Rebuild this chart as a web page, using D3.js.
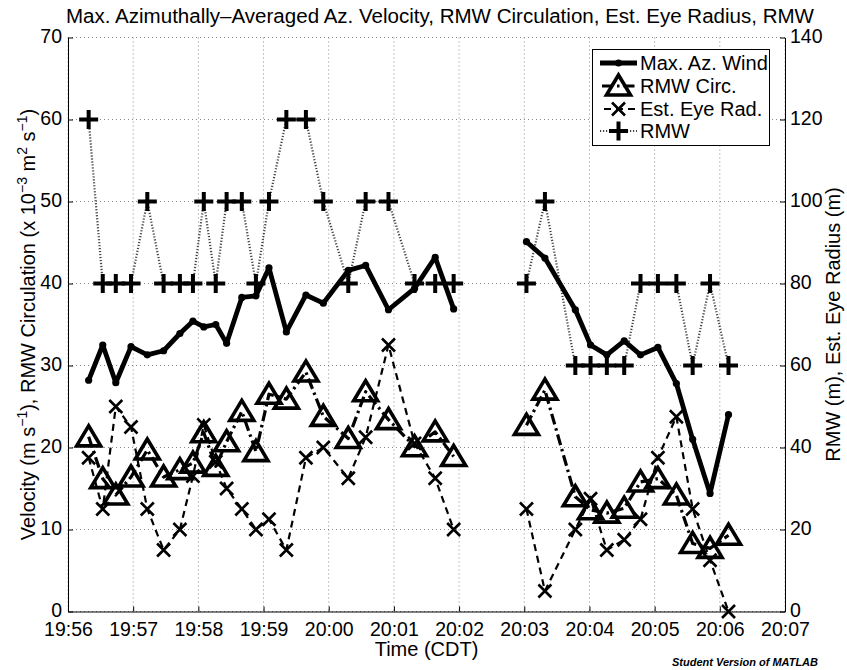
<!DOCTYPE html>
<html><head><meta charset="utf-8">
<script src="https://cdn.jsdelivr.net/npm/d3@7"></script>
<style>
body{margin:0;background:#fff;}
text{font-family:"Liberation Sans",Arial,Helvetica,sans-serif;fill:#000;}
</style></head>
<body>
<svg id="c" width="847" height="670"></svg>
<script>
// ---- data ----
const times = ["19:56:19","19:56:32","19:56:44","19:56:58","19:57:13","19:57:28","19:57:43","19:57:55",
  "19:58:05","19:58:16","19:58:26","19:58:40","19:58:53","19:59:05","19:59:21","19:59:39","19:59:55",
  "20:00:18","20:00:34","20:00:55","20:01:19","20:01:38","20:01:55",
  "20:03:02","20:03:19","20:03:47","20:04:01","20:04:16","20:04:32","20:04:47","20:05:03","20:05:20",
  "20:05:35","20:05:51","20:06:08"];
const maxAzWind = [28.2,32.5,27.9,32.3,31.3,31.8,33.9,35.4,34.7,35.0,32.7,38.3,38.5,41.9,34.1,38.6,37.6,41.6,42.2,36.8,39.4,43.2,36.9,
  45.1,43.1,36.8,32.5,31.3,33.0,31.3,32.2,27.8,21.0,14.4,24.0];
const rmwCirc = [21.3,16.2,14.2,16.4,19.7,16.4,17.3,18.1,21.8,17.7,20.7,24.4,19.5,26.5,25.9,29.2,23.8,21.1,26.8,23.4,20.1,21.9,18.9,
  22.7,27.0,14.0,12.4,12.0,12.6,15.8,16.2,14.2,8.3,7.7,9.3];
const eyeRad = [37.5,25,50,45,25,15,20,33,45.5,36.5,30,25,20,22.5,15,37.5,40,32.5,42.5,65,41,32.5,20,
  25,5,20,27.5,15,17.5,22.5,37.5,47.5,25,12.5,0];
const rmw = [120,80,80,80,100,80,80,80,100,80,100,100,80,100,120,120,100,80,100,100,80,80,80,
  80,100,60,60,60,60,80,80,80,60,80,60];
const leftTicks = [0,10,20,30,40,50,60,70];
const rightTicks = [0,20,40,60,80,100,120,140];
const legendLabels = ["Max. Az. Wind","RMW Circ.","Est. Eye Rad.","RMW"];

// ---- chart ----
const svg = d3.select("#c");
const parse = d3.timeParse("%H:%M:%S");
const T = times.map(parse);
const L = 68, R = 785, TOP = 37.5, BOT = 611.5;
const x = d3.scaleTime().domain([parse("19:56:00"), parse("20:07:00")]).range([L, R]);
const yL = d3.scaleLinear().domain([0,70]).range([BOT, TOP]);
const yR = d3.scaleLinear().domain([0,140]).range([BOT, TOP]);

// grid
const g = svg.append("g");
const xt = d3.timeMinute.every(1).range(parse("19:56:00"), parse("20:07:01"));
g.selectAll(".gx").data(xt).join("line").attr("x1",d=>x(d)).attr("x2",d=>x(d)).attr("y1",TOP).attr("y2",BOT)
  .attr("stroke","#888").attr("stroke-width",1).attr("stroke-dasharray","1,3");
g.selectAll(".gy").data(leftTicks).join("line").attr("x1",L).attr("x2",R).attr("y1",d=>yL(d)).attr("y2",d=>yL(d))
  .attr("stroke","#888").attr("stroke-width",1).attr("stroke-dasharray","1,3");

// axes
const fontSize = 20, tickFont = 19.5;
const ax = svg.append("g").attr("transform",`translate(0,${BOT})`)
  .call(d3.axisBottom(x).tickValues(xt).tickFormat(d3.timeFormat("%H:%M")).tickSizeInner(-5).tickSizeOuter(0).tickPadding(11));
const ayl = svg.append("g").attr("transform",`translate(${L},0)`)
  .call(d3.axisLeft(yL).tickValues(leftTicks).tickSizeInner(-5).tickSizeOuter(0).tickPadding(6));
const ayr = svg.append("g").attr("transform",`translate(${R},0)`)
  .call(d3.axisRight(yR).tickValues(rightTicks).tickSizeInner(-5).tickSizeOuter(0).tickPadding(5));
[ax,ayl,ayr].forEach(a=>{
  a.selectAll("path").attr("stroke","#000").attr("stroke-width",1);
  a.selectAll("line").attr("stroke","#000");
  a.selectAll("text").attr("font-size",tickFont).attr("font-family","Liberation Sans, Arial, sans-serif").attr("fill","#000");
});
ayl.selectAll("text").attr("dy","0.26em");
ayr.selectAll("text").attr("dy","0.26em");

// segments (break where gap > 60 s)
const idx = d3.range(T.length);
const segs = [];
let cur = [0];
for (let i=1;i<T.length;i++){ if ((T[i]-T[i-1])/1000 > 60){ segs.push(cur); cur=[]; } cur.push(i); }
segs.push(cur);

function drawSeries(vals, yS, style){
  const line = d3.line().x(i=>x(T[i])).y(i=>yS(vals[i]));
  svg.append("g").selectAll("path").data(segs).join("path").attr("d",line)
    .attr("fill","none").attr("stroke",style.color).attr("stroke-width",style.width)
    .attr("stroke-dasharray",style.dash||null).attr("stroke-linejoin","round");
}
const triPath = "M0,-11L-12,9L12,9Z";
const plusPath = "M-9.5,0H9.5M0,-9.5V9.5";
const xPath = "M-6.5,-6.5L6.5,6.5M-6.5,6.5L6.5,-6.5";

drawSeries(rmw, yR, {color:"#444", width:2.2, dash:"1.2,1.8"});
drawSeries(eyeRad, yR, {color:"#000", width:2.2, dash:"7,5"});
drawSeries(rmwCirc, yL, {color:"#000", width:3.2, dash:"11,4,2.5,4"});
drawSeries(maxAzWind, yL, {color:"#000", width:4.8});

svg.append("g").selectAll("path").data(idx).join("path").attr("d",plusPath)
  .attr("transform",i=>`translate(${x(T[i])},${yR(rmw[i])})`).attr("stroke","#000").attr("stroke-width",4).attr("fill","none");
svg.append("g").selectAll("path").data(idx).join("path").attr("d",xPath)
  .attr("transform",i=>`translate(${x(T[i])},${yR(eyeRad[i])})`).attr("stroke","#000").attr("stroke-width",2.6).attr("fill","none");
svg.append("g").selectAll("path").data(idx).join("path").attr("d",triPath)
  .attr("transform",i=>`translate(${x(T[i])},${yL(rmwCirc[i])})`).attr("stroke","#000").attr("stroke-width",3.6).attr("fill","none").attr("stroke-linejoin","miter");
svg.append("g").selectAll("circle").data(idx).join("circle")
  .attr("cx",i=>x(T[i])).attr("cy",i=>yL(maxAzWind[i])).attr("r",3.6).attr("fill","#000");

// legend
const lg = svg.append("g");
lg.append("rect").attr("x",592.5).attr("y",49.5).attr("width",177).attr("height",96).attr("fill","#fff").attr("stroke","#000").attr("stroke-width",1);
const ly = [63,86,109,131];
const sx1 = 600, sx2 = 637, sm = 618.5;
lg.append("line").attr("x1",sx1).attr("x2",sx2).attr("y1",ly[0]).attr("y2",ly[0]).attr("stroke","#000").attr("stroke-width",4.8);
lg.append("circle").attr("cx",sm).attr("cy",ly[0]).attr("r",3.6);
lg.append("line").attr("x1",sx1).attr("x2",sx2).attr("y1",ly[1]).attr("y2",ly[1]).attr("stroke","#000").attr("stroke-width",3.2).attr("stroke-dasharray","11,4,2.5,4").attr("stroke-dashoffset",-2);
lg.append("path").attr("d",triPath).attr("transform",`translate(${sm},${ly[1]})`).attr("stroke","#000").attr("stroke-width",3.6).attr("fill","none");
lg.append("line").attr("x1",sx1).attr("x2",sx2).attr("y1",ly[2]).attr("y2",ly[2]).attr("stroke","#000").attr("stroke-width",2.2).attr("stroke-dasharray","7,5").attr("stroke-dashoffset",-4);
lg.append("path").attr("d",xPath).attr("transform",`translate(${sm},${ly[2]})`).attr("stroke","#000").attr("stroke-width",2.6);
lg.append("line").attr("x1",sx1).attr("x2",sx2).attr("y1",ly[3]).attr("y2",ly[3]).attr("stroke","#444").attr("stroke-width",2.2).attr("stroke-dasharray","1.2,1.8");
lg.append("path").attr("d",plusPath).attr("transform",`translate(${sm},${ly[3]})`).attr("stroke","#000").attr("stroke-width",4);
lg.selectAll("text.l").data(legendLabels).join("text").attr("x",640).attr("y",(d,i)=>ly[i]).attr("dy","0.35em")
  .attr("font-size",fontSize).text(d=>d);

// title & labels
svg.append("text").attr("x",440).attr("y",23).attr("text-anchor","middle").attr("font-size",fontSize)
  .attr("textLength",748).attr("lengthAdjust","spacingAndGlyphs")
  .text("Max. Azimuthally\u2013Averaged Az. Velocity, RMW Circulation, Est. Eye Radius, RMW");
svg.append("text").attr("x",426.5).attr("y",656).attr("text-anchor","middle").attr("font-size",fontSize).text("Time (CDT)");

const yl = svg.append("text").attr("transform",`translate(35,${(TOP+BOT)/2}) rotate(-90)`).attr("text-anchor","middle").attr("font-size",fontSize);
yl.append("tspan").text("Velocity (m s");
yl.append("tspan").attr("dy",-8).attr("font-size",14).text("\u22121");
yl.append("tspan").attr("dy",8).text("), RMW Circulation (x 10");
yl.append("tspan").attr("dy",-8).attr("font-size",14).text("\u22123");
yl.append("tspan").attr("dy",8).text(" m");
yl.append("tspan").attr("dy",-8).attr("font-size",14).text("2");
yl.append("tspan").attr("dy",8).text(" s");
yl.append("tspan").attr("dy",-8).attr("font-size",14).text("\u22121");
yl.append("tspan").attr("dy",8).text(")");

svg.append("text").attr("transform",`translate(840,${(TOP+BOT)/2}) rotate(-90)`).attr("text-anchor","middle").attr("font-size",fontSize)
  .text("RMW (m), Est. Eye Radius (m)");

svg.append("text").attr("x",818).attr("y",666).attr("text-anchor","end").attr("font-size",11)
  .attr("font-weight","bold").attr("font-style","italic").text("Student Version of MATLAB");
</script>
</body></html>
